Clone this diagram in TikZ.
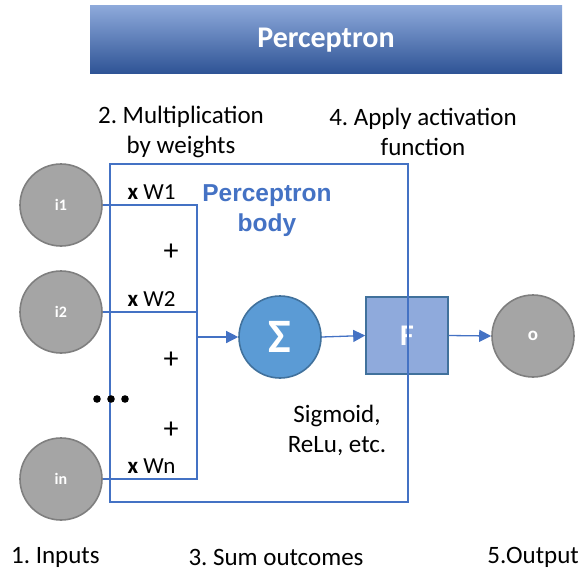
\documentclass[tikz,border=0pt]{standalone}
\usepackage{fontspec}
\setmainfont{Carlito}
\newfontfamily\arialfont{Liberation Sans}
\usetikzlibrary{arrows.meta}
\frenchspacing
\definecolor{wire}{HTML}{4472C4}
\definecolor{grayfill}{HTML}{A5A5A5}
\definecolor{grayline}{HTML}{7F7F7F}
\definecolor{sumfill}{HTML}{5B9BD5}
\definecolor{darkedge}{HTML}{41719C}
\definecolor{actfill}{HTML}{8FAADC}
\definecolor{titletop}{HTML}{8EAADB}
\definecolor{titlemid}{HTML}{4472C4}
\definecolor{titlebot}{HTML}{2F5496}
\tikzset{
  neuron/.style={circle, draw=grayline, fill=grayfill, line width=1.6pt,
    minimum size=82pt, inner sep=0pt, text=white, font=\bfseries\fontsize{16}{18}\selectfont},
  sumnode/.style={circle, draw=darkedge, fill=sumfill, line width=1.6pt,
    minimum size=82pt, inner sep=0pt, text=white, font=\bfseries\fontsize{48}{50}\selectfont},
  actbox/.style={rectangle, draw=darkedge, fill=actfill, line width=1.6pt,
    minimum width=82pt, minimum height=77pt, inner sep=0pt, text=white,
    font=\bfseries\fontsize{30}{32}\selectfont},
  label/.style={font=\fontsize{25}{30}\selectfont, align=center, inner sep=0pt},
  weight/.style={font=\fontsize{23}{26}\selectfont, inner sep=0pt},
  plus/.style={font=\fontsize{30}{32}\selectfont, inner sep=0pt},
  wireline/.style={draw=wire, line width=1.3pt},
  flow/.style={wireline, -{Triangle[length=12pt,width=12pt]}},
}
\begin{document}
\begin{tikzpicture}[x=1pt,y=-1pt]
\useasboundingbox (0,0) rectangle (581,574);

% title banner
\shade[top color=titletop, middle color=titlemid, bottom color=titlebot]
  (90,5) rectangle (562,73);
\node[text=white, font=\bfseries\fontsize{30}{32}\selectfont] (title) at (326,40) {Perceptron};

% step captions
\node[label] (cap2) at (181,132) {2. Multiplication\\by weights};
\node[label] (cap4) at (423,132) {4. Apply activation\\function};
\node[label, anchor=west] (cap1) at (11,557) {1. Inputs};
\node[label] (cap3) at (276,557) {3. Sum outcomes};
\node[label, anchor=east] (cap5) at (579,557) {5.Output};

% inputs, sum, activation, output
\node[neuron] (i1) at (61,205) {i1};
\node[neuron] (i2) at (61,312) {i2};
\node[neuron] (in) at (61,479) {in};
\node[sumnode] (sum) at (280,337) {Σ};
\node[actbox] (act) at (407,335.5) {F};
\node[neuron, font=\bfseries\fontsize{19}{20}\selectfont] (out) at (533,336) {o};

% perceptron body frame
\node[draw=wire, line width=1.3pt, minimum width=298pt, minimum height=338pt,
  inner sep=0pt] (body) at (259,333) {};
\node[font=\arialfont\bfseries\fontsize{24.5}{30}\selectfont, text=wire, align=center]
  (bodylabel) at (267,211) {Perceptron\\body};

% weights and sums
\node[weight] (w1) at (151.5,192) {\textbf{x} W1};
\node[weight] (w2) at (151.5,299) {\textbf{x} W2};
\node[weight] (wn) at (151.5,466) {\textbf{x} Wn};
\node[plus] (p1) at (171,252) {+};
\node[plus] (p2) at (171,360) {+};
\node[plus] (p3) at (171,430) {+};
\fill (97,399) circle (3.8) (111,399) circle (3.8) (125,399) circle (3.8);

\node[label] (fnames) at (337,430) {Sigmoid,\\ReLu, etc.};

% wiring
\coordinate (j1) at (197,205);
\coordinate (jn) at (197,479);
\coordinate (jm) at (197,337);
\draw[wireline] (i1.east) -- (j1) -- (jn) -- (in.east);
\draw[wireline] (i2.east) -- (i2.east -| j1);
\draw[flow] (jm) -- (sum.west);
\draw[flow] (sum.east) -- (act.west);
\draw[flow] (act.east) -- (out.west);

% frame edge drawn over the activation box
\draw[wireline] (body.north east) -- (body.south east);
\end{tikzpicture}
\end{document}
